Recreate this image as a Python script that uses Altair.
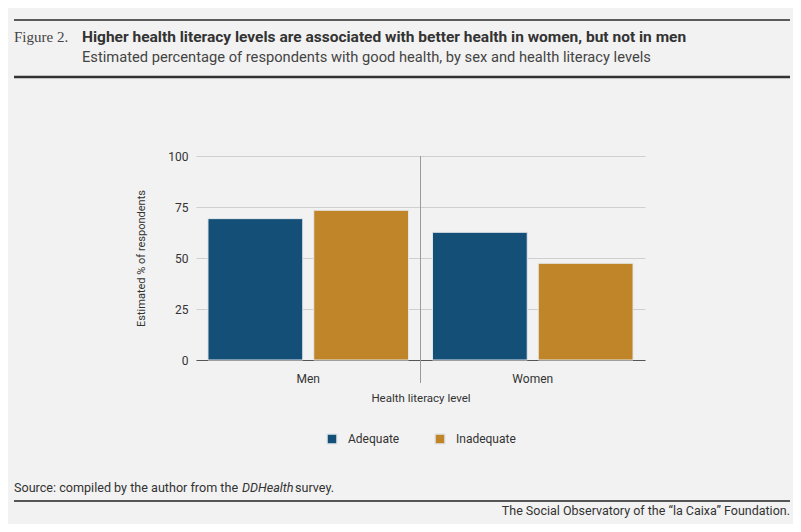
import pandas as pd
import altair as alt

# --- data ---
sexes = ["Men", "Women"]
levels = ["Adequate", "Inadequate"]
pct_adequate = [69.3, 62.6]
pct_inadequate = [73.4, 47.4]

rows = []
for i, s in enumerate(sexes):
    rows.append({"sex": s, "level": "Adequate", "pct": pct_adequate[i]})
    rows.append({"sex": s, "level": "Inadequate", "pct": pct_inadequate[i]})
df = pd.DataFrame(rows)

fig_label = "Figure 2."
title = "Higher health literacy levels are associated with better health in women, but not in men"
subtitle = "Estimated percentage of respondents with good health, by sex and health literacy levels"
source_a = "Source: compiled by the author from the "
source_b = "DDHealth"
source_c = " survey."
footer = "The Social Observatory of the \u201cla Caixa\u201d Foundation."

FONT = "Roboto"
W, H = 449, 204

# --- bars ---
bars = alt.Chart(df).mark_bar(stroke="#e4e8ec", strokeWidth=1).encode(
    alt.X("sex:N", sort=sexes, title="Health literacy level",
          scale=alt.Scale(paddingInner=0, paddingOuter=0),
          axis=alt.Axis(labelAngle=0, ticks=False, domainColor="#555",
                        labelPadding=13, titlePadding=8)),
    alt.XOffset("level:N", sort=levels,
                scale=alt.Scale(paddingInner=0.104, paddingOuter=0.113)),
    alt.Y("pct:Q", title="Estimated % of respondents",
          scale=alt.Scale(domain=[0, 100]),
          axis=alt.Axis(values=[0, 25, 50, 75, 100], domain=False, ticks=False,
                        gridColor="#cfcfcf", labelPadding=8, titlePadding=21)),
    alt.Color("level:N", sort=levels, title=None,
              scale=alt.Scale(domain=levels, range=["#144f78", "#bf8528"]),
              legend=alt.Legend(orient="none", legendX=130, legendY=277,
                                direction="horizontal", symbolType="square",
                                symbolSize=100, columnPadding=32,
                                labelFont=FONT, labelFontSize=12,
                                labelColor="#333", labelOffset=10)),
)

one = alt.Data(values=[{}])

def txt(t, x, y, font=FONT, size=12, weight="normal", style="normal",
        color="#333", align="left"):
    return alt.Chart(one).mark_text(
        text=t, font=font, fontSize=size, fontWeight=weight, fontStyle=style,
        color=color, align=align, baseline="middle"
    ).encode(x=alt.value(x), y=alt.value(y))

def hrule(y, color, width):
    return alt.Chart(one).mark_rule(color=color, strokeWidth=width).encode(
        x=alt.value(-182), x2=alt.value(594), y=alt.value(y))

sep = alt.Chart(one).mark_rule(color="#9a9a9a", strokeWidth=1).encode(
    x=alt.value(W / 2), y=alt.value(0), y2=alt.value(227))

layers = [
    sep,
    bars,
    hrule(-136, "#5a5a5a", 2),
    hrule(-79, "#333", 2.5),
    hrule(345, "#555", 2),
    txt(fig_label, -182, -119, font="Liberation Serif", size=15, color="#444"),
    txt(title, -114, -119, size=15.5, weight="bold", color="#333"),
    txt(subtitle, -114, -98, size=14.7, color="#444"),
    txt(source_a, -182, 332, size=12.6),
    txt(source_b, 46, 332, size=12.6, style="italic"),
    txt(source_c, 99, 332, size=12.6),
    txt(footer, 594, 355, size=12.5, align="right"),
]

chart = alt.layer(*layers).properties(
    width=W, height=H,
    autosize=alt.AutoSizeParams(type="none"),
    padding={"left": 188, "top": 148, "right": 148, "bottom": 164},
    background="#f2f2f2",
).configure_view(strokeWidth=0).configure_axis(
    labelFont=FONT, labelFontSize=12, labelColor="#333",
    titleFont=FONT, titleFontSize=11.5, titleFontWeight="normal", titleColor="#333",
).configure_axisY(titleFontSize=11)

chart.save("out.html", embed_options={"renderer": "svg", "actions": False})
